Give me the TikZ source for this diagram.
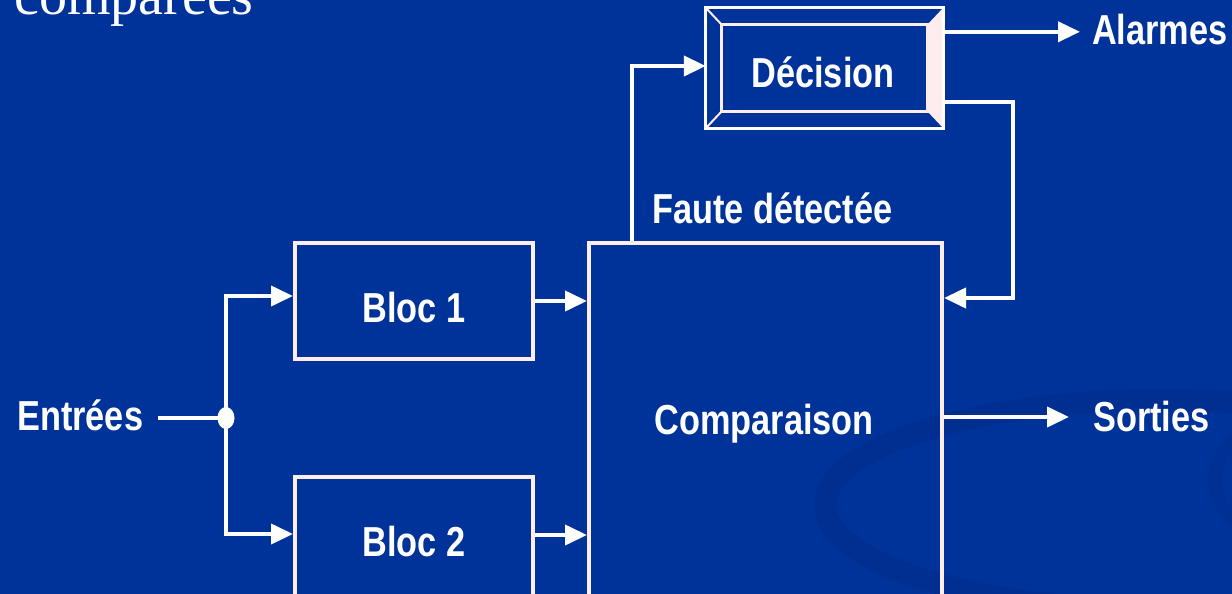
\documentclass[tikz,border=0pt]{standalone}
\usepackage{fontspec}
\setmainfont{Liberation Serif}
\setsansfont{Liberation Sans}
\usetikzlibrary{arrows.meta,calc}
\definecolor{bg}{RGB}{0,51,153}
\definecolor{swo}{RGB}{0,44,138}
\definecolor{pinkw}{RGB}{255,236,236}
\newcommand\labfont{\sffamily\bfseries\fontsize{33}{33}\selectfont}
\newcommand\sx[1]{\scalebox{1.04}[1.27]{#1}}
\tikzset{
  lab/.style={text=white, font=\labfont, inner sep=0pt},
  blk/.style={draw=pinkw, line width=4pt, inner sep=0pt},
  conn/.style={draw=white, line width=4pt},
  arr/.style={conn, -{Triangle[length=22pt,width=20pt]}},
}
\begin{document}
\begin{tikzpicture}[x=1pt,y=-1pt]
\fill[bg] (0,0) rectangle (1232,594);
\useasboundingbox (0,0) rectangle (1232,594);
\clip (0,0) rectangle (1232,594);
% background swoosh
\draw[swo, line width=22pt, opacity=0.5] (1160,505) ellipse [x radius=335pt, y radius=105pt];
\draw[swo, line width=14pt, opacity=0.4] (1290,480) ellipse [x radius=75pt, y radius=60pt];
% title fragment
\node[anchor=base west, text=white, font=\fontsize{56}{56}\selectfont, inner sep=0pt] (ttl) at (14,15) {comparées};
% boxes
\node[blk, minimum width=238pt, minimum height=116pt] (b1) at (414,301) {};
\node[blk, minimum width=238pt, minimum height=133pt] (b2) at (414,543.5) {};
\node[blk, minimum width=353pt, minimum height=417pt] (cmp) at (765.5,451.5) {};
\node[minimum width=237pt, minimum height=120pt, inner sep=0pt] (dec) at (824.5,68) {};
% bevel frame of Décision
\coordinate (iNW) at ($(dec.north west)+(16,17)$);
\coordinate (iNE) at ($(dec.north east)+(-16,17)$);
\coordinate (iSE) at ($(dec.south east)+(-16,-17)$);
\coordinate (iSW) at ($(dec.south west)+(16,-17)$);
\fill[pinkw] (dec.north east) -- (iNE) -- (iSE) -- (dec.south east) -- cycle;
\draw[pinkw, line width=2pt] (dec.north west) -- (iNW) (dec.south west) -- (iSW);
\draw[pinkw, line width=3pt] (iNW) rectangle (iSE);
\draw[white, line width=3pt] (dec.north west) rectangle (dec.south east);
% labels
\node[lab] (t1) at (414,308) {\sx{Bloc 1}};
\node[lab] (t2) at (414,542) {\sx{Bloc 2}};
\node[lab] (tc) at (764,424) {\sx{Comparaison}};
\node[lab] (td) at (823,72) {\sx{Décision}};
\node[lab, anchor=west] (ft) at (652,208) {\sx{Faute détectée}};
\node[lab, anchor=west] (ent) at (17,415) {\sx{Entrées}};
\node[lab, anchor=west] (sor) at (1093,417) {\sx{Sorties}};
\node[lab, anchor=west] (ala) at (1092,30) {\sx{Alarmes}};
% connector points
\coordinate (sp) at (226,418);
\coordinate (dA) at ($(dec.north east)+(0,24)$);
\coordinate (dB) at ($(dec.north east)+(0,94)$);
\coordinate (dBr) at ($(dB)+(70,0)$);
\coordinate (cIn) at ($(cmp.north east)+(0,57)$);
\coordinate (cUp) at ($(cmp.north west)+(45,0)$);
\coordinate (b2in) at ($(b2.north west)+(0,59)$);
\coordinate (b2out) at ($(b2.north east)+(0,60)$);
% connectors
\draw[conn] ([xshift=15pt]ent.east |- sp) -- (sp);
\fill[white] (sp) ellipse [x radius=8.5pt, y radius=11pt];
\draw[arr] (sp) |- ([yshift=5pt]b1.west);
\draw[arr] (sp) |- (b2in);
\draw[arr] (b1.east) -- (b1.east -| cmp.west);
\draw[arr] (b2out) -- (b2out -| cmp.west);
\draw[arr] (cmp.east |- sor) -- ([xshift=-24pt]sor.west);
\draw[arr] (cUp) |- ([yshift=2pt]dec.west);
\draw[arr] (dA) -- ([xshift=-12pt]ala.west |- dA);
\draw[arr] (dB) -- (dBr) |- (cIn);
\end{tikzpicture}
\end{document}
